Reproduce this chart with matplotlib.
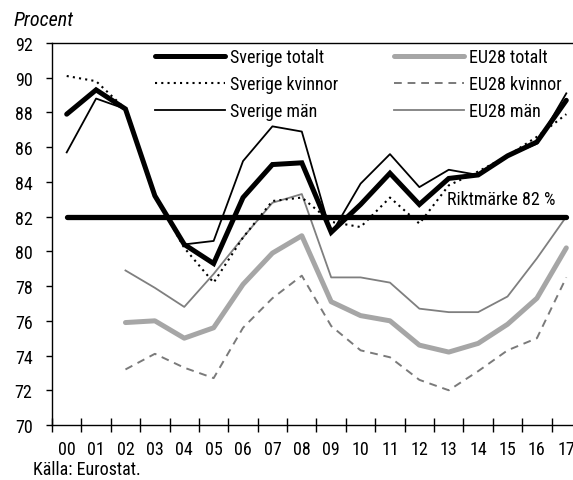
import matplotlib
matplotlib.use("Agg")
import matplotlib.pyplot as plt
from matplotlib.lines import Line2D
import numpy as np

plt.rcParams['font.family'] = ['Roboto Condensed', 'Archivo Narrow', 'DejaVu Sans']

years = ["00", "01", "02", "03", "04", "05", "06", "07", "08", "09",
         "10", "11", "12", "13", "14", "15", "16", "17"]

se_total = [87.9, 89.3, 88.2, 83.2, 80.4, 79.3, 83.1, 85.0, 85.1, 81.1,
            82.7, 84.5, 82.7, 84.2, 84.4, 85.5, 86.3, 88.7]
se_women = [90.1, 89.8, 88.2, 83.2, 80.2, 78.2, 80.8, 82.9, 83.1, 81.7,
            81.4, 83.1, 81.6, 83.8, 84.6, 85.5, 86.6, 87.9]
se_men = [85.7, 88.8, 88.2, 83.3, 80.4, 80.6, 85.2, 87.2, 86.9, 81.0,
          83.9, 85.6, 83.7, 84.7, 84.4, 85.5, 86.2, 89.1]
eu_total = [None, None, 75.9, 76.0, 75.0, 75.6, 78.1, 79.9, 80.9, 77.1,
            76.3, 76.0, 74.6, 74.2, 74.7, 75.8, 77.3, 80.2]
eu_women = [None, None, 73.2, 74.1, 73.3, 72.7, 75.6, 77.3, 78.6, 75.7,
            74.3, 73.9, 72.6, 72.0, 73.1, 74.3, 75.0, 78.5]
eu_men = [None, None, 78.9, 77.9, 76.8, 78.7, 80.8, 82.8, 83.3, 78.5,
          78.5, 78.2, 76.7, 76.5, 76.5, 77.4, 79.6, 82.0]
target = 82
yticks = [70, 72, 74, 76, 78, 80, 82, 84, 86, 88, 90, 92]

def arr(v):
    return np.array([np.nan if a is None else a for a in v], dtype=float)

FS = 13
PX = FS * 100 / 72
fig = plt.figure(figsize=(5.73, 4.81), dpi=100)
ax = fig.add_axes([52/573, 1-426/481, 529/573, 382/481])
x = np.arange(len(years))

ax.plot(x, [target]*len(x), color='black', lw=3.8, solid_capstyle='round', zorder=3)
l_eut, = ax.plot(x, arr(eu_total), color='#a6a6a6', lw=3.6, solid_capstyle='round', solid_joinstyle='round', label='EU28 totalt', zorder=2)
l_euw, = ax.plot(x, arr(eu_women), color='#7a7a7a', lw=1.4, ls=(0, (4, 3)), label='EU28 kvinnor', zorder=2)
l_eum, = ax.plot(x, arr(eu_men), color='#7f7f7f', lw=1.3, label='EU28 män', zorder=2)
l_sew, = ax.plot(x, arr(se_women), color='black', lw=1.5, ls=(0, (1, 2)), label='Sverige kvinnor', zorder=4)
l_sem, = ax.plot(x, arr(se_men), color='black', lw=1.3, label='Sverige män', zorder=4)
l_set, = ax.plot(x, arr(se_total), color='black', lw=3.6, solid_capstyle='round', solid_joinstyle='miter', label='Sverige totalt', zorder=5)

ax.text(12.95, 83.0, "Riktmärke 82 %", fontsize=FS, ha='left', va='center', zorder=6)

ax.set_xlim(-0.5, 17.5)
ax.set_ylim(70, 92)
ax.set_yticks(yticks)
ax.set_yticklabels([str(t) for t in yticks], fontsize=FS)
ax.set_xticks(np.arange(-0.5, 18, 1))
ax.set_xticklabels([])
ax.set_xticks(x, minor=True)
ax.set_xticklabels(years, minor=True, fontsize=FS)
ax.tick_params(axis='x', which='major', direction='inout', length=10, width=1)
ax.tick_params(axis='x', which='minor', length=0, pad=11)
ax.tick_params(axis='y', direction='out', length=4, width=1, pad=10)
for s in ['left', 'bottom', 'top', 'right']:
    ax.spines[s].set_linewidth(1.0)

handles = [l_set, l_sew, l_sem, l_eut, l_euw, l_eum]
leg = fig.legend(handles=handles, loc='upper left', bbox_to_anchor=(155/573, 1-49/481),
                 ncol=2, frameon=False, fontsize=FS, handlelength=70/PX, handletextpad=5/PX,
                 columnspacing=3.1, labelspacing=0.5, borderpad=0, borderaxespad=0)

fig.text(14/573, 1-20/481, "Procent", fontsize=14.5, style='italic', ha='left', va='center')
fig.text(33/573, 1-470/481, "Källa: Eurostat.", fontsize=FS, ha='left', va='center')
fig.add_artist(Line2D([0, 1], [0.999, 0.999], transform=fig.transFigure, color='black', lw=1.2))

fig.savefig("out.png", dpi=100)
